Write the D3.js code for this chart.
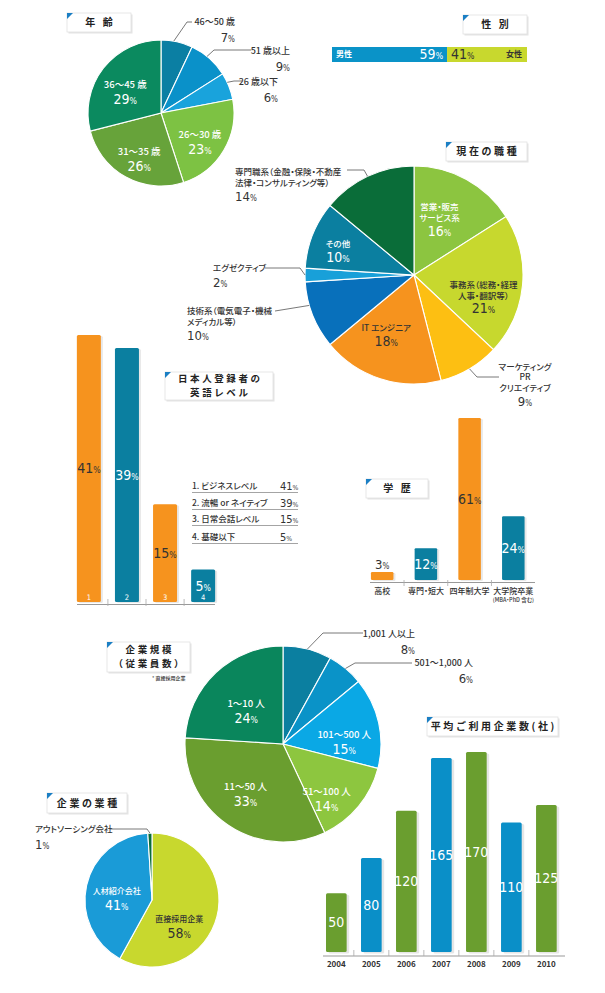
<!DOCTYPE html>
<html><head><meta charset="utf-8">
<script src="https://cdn.jsdelivr.net/npm/d3@7"></script>
<style>
body{margin:0;background:#fff;}
svg{display:block;}
text{font-family:"Noto Sans CJK JP","Noto Sans",sans-serif;font-feature-settings:"palt";}
.num{font-family:"Liberation Sans Narrow","DejaVu Sans Condensed","Roboto",sans-serif;font-feature-settings:normal;}
</style></head><body>
<svg id="c" width="605" height="993"></svg>
<script>
// ---------------- DATA ----------------
const ageLabels = ["46～50 歳","51 歳以上","26 歳以下","26～30 歳","31～35 歳","36～45 歳"];
const ageValues = [7, 9, 6, 23, 26, 29];

const genderLabels = ["男性","女性"];
const genderValues = [59, 41];

const jobLabels = ["営業・販売\nサービス系","事務系（総務・経理\n人事・翻訳等）","マーケティング\nPR\nクリエイティブ","IT エンジニア",
  "技術系（電気電子・機械\nメディカル等）","エグゼクティブ","その他","専門職系（金融・保険・不動産\n法律・コンサルティング等）"];
const jobValues = [16, 21, 9, 18, 10, 2, 10, 14];

const englishCats = ["1","2","3","4"];
const englishLabels = ["1. ビジネスレベル","2. 流暢 or ネイティブ","3. 日常会話レベル","4. 基礎以下"];
const englishValues = [41, 39, 15, 5];

const eduLabels = ["高校","専門・短大","四年制大学","大学院卒業"];
const eduValues = [3, 12, 61, 24];

const sizeLabels = ["1,001 人以上","501～1,000 人","101～500 人","51～100 人","11～50 人","1～10 人"];
const sizeValues = [8, 6, 15, 14, 33, 24];

const industryLabels = ["直接採用企業","人材紹介会社","アウトソーシング会社"];
const industryValues = [58, 41, 1];

const years = ["2004","2005","2006","2007","2008","2009","2010"];
const companyCounts = [50, 80, 120, 165, 170, 110, 125];

// ---------------- STYLE / LAYOUT ----------------
const ORANGE = "#f6931e", TEAL = "#0b7fa0", GREEN = "#6a9e2f", BLUE = "#0a8fc8";
const DARK = "#333";
const svg = d3.select("#c");

function pctText(g, x, y, value, size, color, anchor) {
  const t = g.append("text").attr("class","num").attr("x",x).attr("y",y).attr("dy","0.35em")
    .attr("text-anchor",anchor||"middle").attr("fill",color).attr("font-size",size);
  t.append("tspan").text(value);
  t.append("tspan").attr("font-size",size*0.62).text("%");
  return t;
}
function labelText(g, x, y, txt, size, color, anchor, weight) {
  return g.append("text").attr("x",x).attr("y",y).attr("dy","0.35em")
    .attr("text-anchor",anchor||"middle").attr("fill",color).attr("font-size",size)
    .attr("font-weight",weight||500).text(txt);
}
function titleBox(x, y, w, h, lines, lh) {
  const g = svg.append("g");
  g.append("rect").attr("x",x+1.5).attr("y",y+1.5).attr("width",w).attr("height",h).attr("fill","#e4e4e4");
  g.append("rect").attr("x",x).attr("y",y).attr("width",w).attr("height",h).attr("fill","#fff").attr("stroke","#e2e2e2").attr("stroke-width",0.8);
  g.append("path").attr("d",`M${x},${y}L${x+6},${y}L${x},${y+6}Z`).attr("fill","#1b7fc4");
  lh = lh || 12;
  const fs = lines.length > 1 ? 9.5 : 10;
  const y0 = y + h/2 - (lines.length-1)*lh/2;
  lines.forEach((l,i)=>{
    g.append("text").attr("x",x+w/2+1.3).attr("y",y0+i*lh).attr("dy","0.36em").attr("text-anchor","middle")
      .attr("font-size",fs).attr("font-weight",700).attr("letter-spacing",2.6).attr("fill","#222")
      .style("font-feature-settings","normal").text(l);
  });
}

function drawPie(cfg) {
  const g = svg.append("g");
  const gp = g.append("g").attr("transform",`translate(${cfg.cx},${cfg.cy})`);
  const arcs = d3.pie().sort(null).value(d=>d)(cfg.values);
  const arc = d3.arc().innerRadius(0).outerRadius(cfg.r);
  gp.selectAll("path").data(arcs).join("path").attr("d",arc)
    .attr("fill",(d,i)=>cfg.colors[i]).attr("stroke","#fff").attr("stroke-width",1.1);
  arcs.forEach((a,i)=>{
    const L = cfg.layout[i];
    const lines = cfg.labels[i].split("\n");
    const v = cfg.values[i];
    if (L.inside) {
      const ang = (a.startAngle+a.endAngle)/2;
      const rr = cfg.r*L.k;
      const x = cfg.cx + rr*Math.sin(ang) + (L.off?L.off[0]:0);
      const y = cfg.cy - rr*Math.cos(ang) + (L.off?L.off[1]:0);
      const n = lines.length;
      const lh = L.lh || 11.5;
      const y0 = y - (n*lh)/2 + lh/2 - 1;
      lines.forEach((l,j)=>labelText(g, x, y0+j*lh, l, L.fs||9, L.color, "middle"));
      pctText(g, x, y0+n*lh+1.5, v, L.ps||14, L.color, "middle");
    } else {
      const ang = a.startAngle + (a.endAngle-a.startAngle)*(L.at==null?0.5:L.at);
      const sx = cfg.cx + cfg.r*Math.sin(ang), sy = cfg.cy - cfg.r*Math.cos(ang);
      const pts = [[sx,sy]].concat(L.pts);
      g.append("path").attr("d",d3.line()(pts)).attr("fill","none").attr("stroke","#555").attr("stroke-width",0.8);
      const lh = L.lh || 10.5;
      lines.forEach((l,j)=>labelText(g, L.tx, L.ty+j*lh, l, L.fs||9, DARK, L.anchor, 500));
      pctText(g, L.tx, L.ty+lines.length*lh+2.5, v, L.ps||13, DARK, L.anchor);
    }
  });
}

// ---------------- AGE PIE ----------------
titleBox(67,13,64,19,["年 齢"]);
drawPie({cx:161, cy:113, r:73, values:ageValues, labels:ageLabels,
  colors:["#0b7fa3","#0a91c9","#19a3dc","#7dc243","#67a33a","#0b8a5f"],
  layout:[
    {at:0.4, pts:[[187,22],[192,22]], tx:235, ty:22, anchor:"end", lh:12.5},
    {at:0.43, pts:[[214,50],[251,50]], tx:290, ty:51, anchor:"end", lh:12.5},
    {at:0.35, pts:[[234,81],[242,81]], tx:278, ty:82, anchor:"end", lh:12.5},
    {inside:true, k:0.62, color:"#fff", fs:9.5, lh:13},
    {inside:true, k:0.62, color:"#fff", fs:9.5, lh:13},
    {inside:true, k:0.62, color:"#fff", fs:9.5, lh:13}
  ]});

// ---------------- GENDER BAR ----------------
titleBox(463,15,64,19,["性 別"]);
(function(){
  const x = d3.scaleLinear().domain([0, d3.sum(genderValues)]).range([332,527]);
  const g = svg.append("g");
  let acc = 0;
  const cols = ["#0a93c8","#c8d82e"];
  genderValues.forEach((v,i)=>{
    g.append("rect").attr("x",x(acc)).attr("y",47).attr("width",x(acc+v)-x(acc)).attr("height",15).attr("fill",cols[i]);
    acc += v;
  });
  const split = x(genderValues[0]);
  labelText(g, 336, 54.5, genderLabels[0], 8, "#fff", "start", 700);
  pctText(g, split-4, 54.5, genderValues[0], 14, "#fff", "end");
  pctText(g, split+4, 54.5, genderValues[1], 14, DARK, "start");
  labelText(g, 522, 54.5, genderLabels[1], 8, DARK, "end", 700);
})();

// ---------------- JOB PIE ----------------
titleBox(446,142,81,19,["現在の職種"]);
drawPie({cx:414, cy:275, r:109, values:jobValues, labels:jobLabels,
  colors:["#8cc540","#c7d82e","#fdbf12","#f6931e","#0870bb","#18a0d9","#0b7fa0","#0a6d39"],
  layout:[
    {inside:true, k:0.6, off:[-6,-4], color:"#fff", fs:8.5, lh:11},
    {inside:true, k:0.64, off:[0,10], color:DARK, fs:8.5, lh:11},
    {at:0.5, pts:[[477,377],[499,377]], tx:525, ty:367, anchor:"middle", fs:8.5},
    {inside:true, k:0.56, off:[-9,-4], color:DARK, fs:8.5, lh:12},
    {at:0.65, pts:[[275,311]], tx:187, ty:311, anchor:"start", fs:8.5, lh:11},
    {at:0.5, pts:[[300,268],[265,268]], tx:213, ty:268, anchor:"start", fs:8.5, lh:12},
    {inside:true, k:0.75, color:"#fff", fs:8.5, lh:12},
    {at:0.5, pts:[[364,170],[347,170]], tx:235, ty:172, anchor:"start", fs:8.5, lh:11}
  ]});

// ---------------- ENGLISH LEVEL BARS ----------------
titleBox(165,372,108,28,["日本人登録者の","英語レベル"], 14);
(function(){
  const g = svg.append("g");
  const x = d3.scaleBand().domain(englishCats).range([70,222]).paddingInner(0.37).paddingOuter(0.18);
  const y = d3.scaleLinear().domain([0, d3.max(englishValues)]).range([602,335]);
  const cols = [ORANGE, TEAL, ORANGE, TEAL];
  g.selectAll("rect.sh").data(englishValues).join("rect").attr("class","sh")
    .attr("x",(d,i)=>x(englishCats[i])+2).attr("y",d=>y(d)+1).attr("width",x.bandwidth()).attr("height",d=>602-y(d)).attr("rx",1.5).attr("fill","#e8e8e8");
  g.selectAll("rect.b").data(englishValues).join("rect").attr("class","b")
    .attr("x",(d,i)=>x(englishCats[i])).attr("y",d=>y(d)).attr("width",x.bandwidth()).attr("height",d=>602-y(d)).attr("rx",1.5).attr("fill",(d,i)=>cols[i]);
  englishValues.forEach((v,i)=>{
    const cx = x(englishCats[i]) + x.bandwidth()/2;
    const col = cols[i]===ORANGE ? DARK : "#fff";
    pctText(g, cx, (y(v)+602)/2, v, 14, col, "middle");
    g.append("text").attr("class","num").attr("x",cx).attr("y",597).attr("dy","0.35em").attr("text-anchor","middle")
      .attr("fill","#fff").attr("font-size",7.5).text(englishCats[i]);
  });
  // axis
  g.append("line").attr("x1",77).attr("x2",215).attr("y1",604.5).attr("y2",604.5).attr("stroke","#999").attr("stroke-width",1);
  englishCats.slice(1).forEach(c=>{
    const tx = x(c) - x.step()*x.paddingInner()/2;
    g.append("line").attr("x1",tx).attr("x2",tx).attr("y1",599).attr("y2",606).attr("stroke","#aaa").attr("stroke-width",0.8);
  });
  // legend table
  englishLabels.forEach((l,i)=>{
    const ry = [486,503,519,537][i];
    labelText(g, 192, ry, l, 8.5, DARK, "start", 500);
    pctText(g, 280, ry, englishValues[i], 11, DARK, "start");
    g.append("line").attr("x1",192).attr("x2",298).attr("y1",ry+6.5).attr("y2",ry+6.5).attr("stroke","#9a9a9a").attr("stroke-width",0.9);
  });
})();

// ---------------- EDUCATION BARS ----------------
titleBox(366,479,62,19,["学 歴"]);
(function(){
  const g = svg.append("g");
  const x = d3.scaleBand().domain(eduLabels).range([360,535.5]).paddingInner(0.485).paddingOuter(0.25);
  const y = d3.scaleLinear().domain([0, d3.max(eduValues)]).range([580,418]);
  const cols = [ORANGE, TEAL, ORANGE, TEAL];
  g.selectAll("rect.sh").data(eduValues).join("rect").attr("class","sh")
    .attr("x",(d,i)=>x(eduLabels[i])+2).attr("y",d=>y(d)+1).attr("width",x.bandwidth()).attr("height",d=>580-y(d)).attr("rx",1.2).attr("fill","#e8e8e8");
  g.selectAll("rect.b").data(eduValues).join("rect").attr("class","b")
    .attr("x",(d,i)=>x(eduLabels[i])).attr("y",d=>y(d)).attr("width",x.bandwidth()).attr("height",d=>580-y(d)).attr("rx",1.2).attr("fill",(d,i)=>cols[i]);
  eduValues.forEach((v,i)=>{
    const cx = x(eduLabels[i]) + x.bandwidth()/2;
    const h = 580 - y(v);
    if (h < 20) pctText(g, cx, y(v)-8, v, 13, DARK, "middle");
    else pctText(g, cx, (y(v)+580)/2, v, 14, cols[i]===ORANGE?DARK:"#fff", "middle");
    labelText(g, cx, 591, eduLabels[i], 8, DARK, "middle", 500);
  });
  labelText(g, x(eduLabels[3])+x.bandwidth()/2, 600, "(MBA・PhD 含む)", 5.5, DARK, "middle", 500);
  g.append("line").attr("x1",370).attr("x2",535).attr("y1",582.5).attr("y2",582.5).attr("stroke","#999").attr("stroke-width",1);
  eduLabels.slice(1).forEach(c=>{
    const tx = x(c) - x.step()*x.paddingInner()/2;
    g.append("line").attr("x1",tx).attr("x2",tx).attr("y1",580).attr("y2",586).attr("stroke","#aaa").attr("stroke-width",0.8);
  });
})();

// ---------------- COMPANY SIZE PIE ----------------
titleBox(107,642,83,30,["企業規模","（従業員数）"], 14);
labelText(svg, 152, 678.5, "* 直接採用企業", 5, DARK, "start", 500);
drawPie({cx:283, cy:744, r:98, values:sizeValues, labels:sizeLabels,
  colors:["#0b7fa0","#0a93c8","#0aa8e5","#8dc63f","#6a9e2f","#0a865c"],
  layout:[
    {at:0.5, pts:[[323,633],[363,633]], tx:415, ty:634, anchor:"end", fs:9, lh:12.5},
    {at:0.5, pts:[[355,663],[412,663]], tx:473, ty:663, anchor:"end", fs:9, lh:12.5},
    {inside:true, k:0.63, off:[1,5], color:"#fff", fs:9.5, lh:13},
    {inside:true, k:0.67, off:[-7,7], color:"#fff", fs:9.5, lh:13},
    {inside:true, k:0.59, off:[-5,-4], color:"#fff", fs:9.5, lh:13},
    {inside:true, k:0.55, color:"#fff", fs:9.5, lh:13}
  ]});

// ---------------- INDUSTRY PIE ----------------
titleBox(47,793,80,20,["企業の業種"]);
drawPie({cx:152, cy:900, r:67, values:industryValues, labels:industryLabels,
  colors:["#c8d82e","#1a9bd7","#0a6d39"],
  layout:[
    {inside:true, k:0.42, off:[0,13], color:DARK, fs:8, lh:12.5},
    {inside:true, k:0.54, off:[0,0], color:"#fff", fs:8, lh:12.5},
    {at:0.5, pts:[[147,829],[110,829]], tx:35, ty:829, anchor:"start", fs:8.5, lh:13}
  ]});

// ---------------- AVG COMPANIES BARS ----------------
titleBox(427,717,131,19,["平均ご利用企業数(社)"]);
(function(){
  const g = svg.append("g");
  const x = d3.scaleBand().domain(years).range([319,563.7]).paddingInner(0.41).paddingOuter(0.2);
  const y = d3.scaleLinear().domain([0, d3.max(companyCounts)]).range([952,752]);
  const cols = years.map((d,i)=> i%2===0 ? GREEN : BLUE);
  g.selectAll("rect.sh").data(companyCounts).join("rect").attr("class","sh")
    .attr("x",(d,i)=>x(years[i])+2.5).attr("y",d=>y(d)+1.5).attr("width",x.bandwidth()).attr("height",d=>952-y(d)).attr("rx",1.5).attr("fill","#e6e6e6");
  g.selectAll("rect.b").data(companyCounts).join("rect").attr("class","b")
    .attr("x",(d,i)=>x(years[i])).attr("y",d=>y(d)).attr("width",x.bandwidth()).attr("height",d=>952-y(d)).attr("rx",1.5).attr("fill",(d,i)=>cols[i]);
  companyCounts.forEach((v,i)=>{
    const cx = x(years[i]) + x.bandwidth()/2;
    g.append("text").attr("class","num").attr("x",cx).attr("y",(y(v)+952)/2).attr("dy","0.35em").attr("text-anchor","middle")
      .attr("fill","#fff").attr("font-size",14).text(v);
    g.append("text").attr("x",cx).attr("y",964).attr("dy","0.35em").attr("text-anchor","middle")
      .attr("fill",DARK).attr("font-size",8).attr("font-weight",700).text(years[i]);
  });
  g.append("line").attr("x1",323).attr("x2",565).attr("y1",956).attr("y2",956).attr("stroke","#999").attr("stroke-width",1);
  years.slice(1).forEach(c=>{
    const tx = x(c) - x.step()*x.paddingInner()/2;
    g.append("line").attr("x1",tx).attr("x2",tx).attr("y1",950).attr("y2",956).attr("stroke","#aaa").attr("stroke-width",0.8);
  });
})();
</script>
</body></html>
